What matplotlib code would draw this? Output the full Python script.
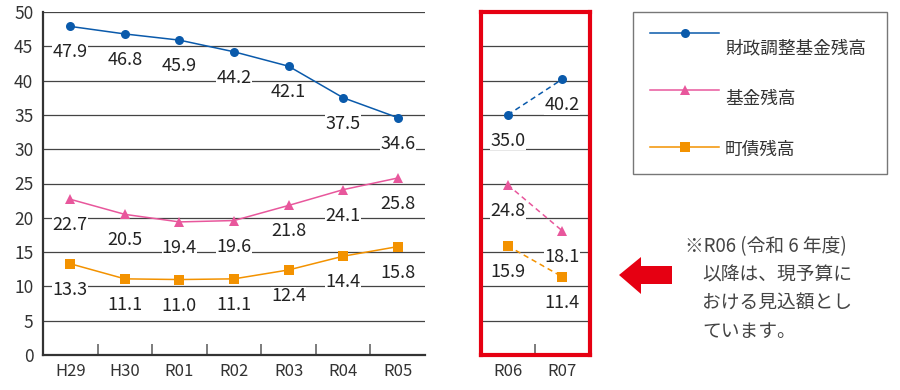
#! /usr/bin/env python3
# 基金残高・町債残高の推移 (H29-R07)
import matplotlib
matplotlib.use('Agg')
import matplotlib.pyplot as plt
from matplotlib.patches import Rectangle, Polygon
from matplotlib.lines import Line2D

plt.rcParams['font.family'] = ['Noto Sans CJK JP', 'DejaVu Sans']

years = ['H29', 'H30', 'R01', 'R02', 'R03', 'R04', 'R05']
fund_adj = [47.9, 46.8, 45.9, 44.2, 42.1, 37.5, 34.6]     # 財政調整基金残高
fund_total = [22.7, 20.5, 19.4, 19.6, 21.8, 24.1, 25.8]   # 基金残高
debt = [13.3, 11.1, 11.0, 11.1, 12.4, 14.4, 15.8]         # 町債残高

years_fc = ['R06', 'R07']
fund_adj_fc = [35.0, 40.2]
fund_total_fc = [24.8, 18.1]
debt_fc = [15.9, 11.4]

names = ['財政調整基金残高', '基金残高', '町債残高']
colors = ['#0a5aab', '#e8579c', '#f39200']
markers = ['o', '^', 's']
msizes = [6.5, 6.5, 7]

W, H = 900, 390
fig = plt.figure(figsize=(9, 3.9), dpi=100)

def fr(x0, y0, x1, y1):
    return [x0 / W, 1 - y1 / H, (x1 - x0) / W, (y1 - y0) / H]

ax = fig.add_axes(fr(43, 12, 425, 355))
ax2 = fig.add_axes(fr(480.5, 12, 589.5, 355))

def label(a, x, y, txt):
    a.annotate(txt, (x, y), xytext=(0, -26), textcoords='offset pixels',
               ha='center', va='center', fontsize=13, color='#222',
               bbox=dict(fc='white', ec='none', pad=0.2), zorder=5)

for a, xs, sets, ls in [(ax, years, [fund_adj, fund_total, debt], '-'),
                        (ax2, years_fc, [fund_adj_fc, fund_total_fc, debt_fc], (0, (3.5, 2.5)))]:
    pos = list(range(len(xs)))
    for vals, c, m, ms in zip(sets, colors, markers, msizes):
        a.plot(pos, vals, color=c, lw=1.1, ls=ls, marker=m, ms=ms,
               markeredgewidth=0, zorder=4)
        for p, v in zip(pos, vals):
            label(a, p, v, f'{v:.1f}')
    a.set_xlim(-0.5, len(xs) - 0.5)
    a.set_ylim(0, 50)
    a.set_yticks(range(0, 51, 5))
    a.set_xticks(pos)
    a.set_xticklabels(xs, fontsize=12, color='#333')
    a.set_xticks([p + 0.5 for p in pos[:-1]], minor=True)
    a.grid(axis='y', color='#444', lw=0.9)
    a.set_axisbelow(True)
    a.tick_params(axis='x', which='major', length=0, pad=6)
    a.tick_params(axis='x', which='minor', direction='in', length=8,
                  width=1.2, color='#666')

ax.tick_params(axis='y', length=0, pad=7, labelsize=12.5, labelcolor='#333')
for s in ['top', 'right']:
    ax.spines[s].set_visible(False)
for s in ['left', 'bottom']:
    ax.spines[s].set_color('#333')
    ax.spines[s].set_linewidth(1.6)

ax2.tick_params(axis='y', length=0, labelleft=False)
for s in ax2.spines.values():
    s.set_color('#e60012')
    s.set_linewidth(3)

# 凡例・注記用のオーバーレイ
ov = fig.add_axes([0, 0, 1, 1])
ov.set_xlim(0, W)
ov.set_ylim(H, 0)
ov.axis('off')

ov.add_patch(Rectangle((633, 12), 254, 162, fill=False, ec='#777', lw=1))
for i, (n, c, m, ms) in enumerate(zip(names, colors, markers, msizes)):
    ly = 33 + i * 57
    ov.add_line(Line2D([650, 719], [ly, ly], color=c, lw=1.1))
    ov.plot([685], [ly], marker=m, color=c, ms=ms, markeredgewidth=0)
    ov.text(725, ly + 15 - i * 6, n, fontsize=12.7, color='#333', va='center')

ov.add_patch(Polygon([(619, 275), (641, 257), (641, 266), (672, 266),
                      (672, 284), (641, 284), (641, 294)],
                     closed=True, fc='#e60012', ec='none'))

note = ['以降は、現予算に', 'おける見込額とし', 'ています。']
ov.text(685, 247, '※R06 (令和 6 年度)', fontsize=13.5, color='#444', va='center')
for i, t in enumerate(note):
    ov.text(702, 275 + i * 28, t, fontsize=13.5, color='#444', va='center')

fig.savefig('out.png', dpi=100)
